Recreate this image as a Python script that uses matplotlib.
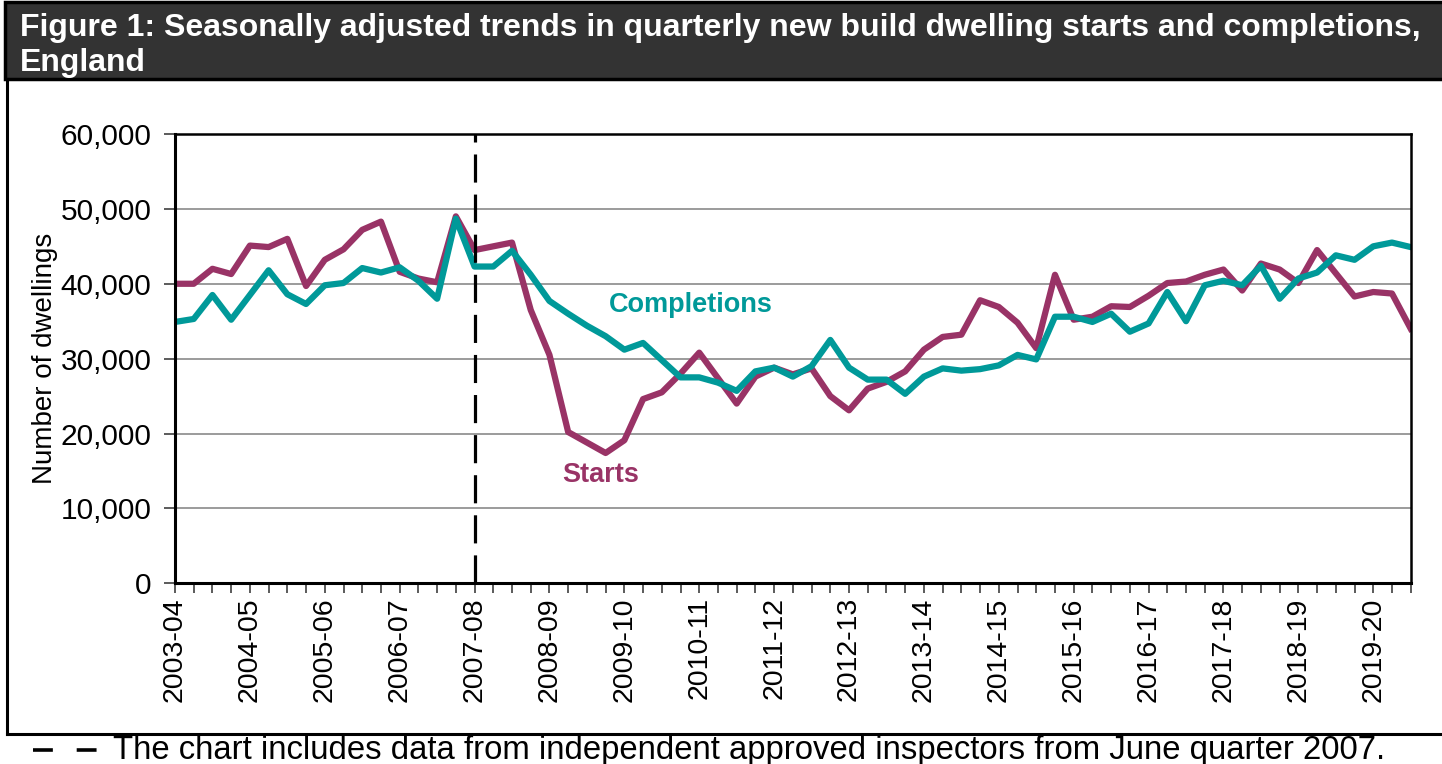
import matplotlib
matplotlib.use("Agg")
import matplotlib.pyplot as plt
from matplotlib.lines import Line2D
from matplotlib.patches import Rectangle
from matplotlib.ticker import FuncFormatter
import numpy as np

# ---- data (thousands of dwellings, quarterly from Apr-Jun 2003 to Oct-Dec 2019) ----
years = ["2003-04", "2004-05", "2005-06", "2006-07", "2007-08", "2008-09",
         "2009-10", "2010-11", "2011-12", "2012-13", "2013-14", "2014-15",
         "2015-16", "2016-17", "2017-18", "2018-19", "2019-20"]

starts_k = [40.0, 40.0, 42.0, 41.3, 45.1, 44.9, 46.0, 39.7, 43.2, 44.6, 47.2, 48.3,
            41.6, 40.7, 40.2, 49.0, 44.5, 45.0, 45.5, 36.5, 30.5, 20.2, 18.8, 17.4,
            19.1, 24.6, 25.5, 28.0, 30.8, 27.4, 24.0, 27.6, 28.8, 27.9, 28.7, 25.0,
            23.1, 26.0, 26.9, 28.3, 31.2, 32.9, 33.2, 37.8, 36.9, 34.8, 31.4, 41.2,
            35.2, 35.6, 37.0, 36.9, 38.4, 40.1, 40.3, 41.2, 41.9, 39.1, 42.7, 41.9,
            40.1, 44.5, 41.4, 38.3, 38.9, 38.7, 34.0]

completions_k = [34.9, 35.3, 38.5, 35.2, 38.5, 41.8, 38.6, 37.3, 39.8, 40.1, 42.1, 41.5,
                 42.2, 40.4, 38.0, 48.7, 42.3, 42.3, 44.4, 41.2, 37.7, 36.0, 34.4, 33.0,
                 31.2, 32.1, 29.8, 27.5, 27.5, 26.8, 25.7, 28.3, 28.8, 27.6, 29.0, 32.5,
                 28.8, 27.2, 27.2, 25.3, 27.6, 28.7, 28.4, 28.6, 29.1, 30.5, 29.9, 35.6,
                 35.6, 34.9, 36.0, 33.6, 34.7, 38.9, 35.0, 39.8, 40.4, 39.8, 42.4, 38.0,
                 40.7, 41.5, 43.8, 43.2, 45.0, 45.5, 44.9]

aia_break_index = 16   # June quarter 2007

starts = np.array(starts_k) * 1000
completions = np.array(completions_k) * 1000

STARTS_C = "#993366"
COMPL_C = "#009999"

plt.rcParams['font.family'] = ['Liberation Sans', 'DejaVu Sans']

W, H = 1442, 764
fig = plt.figure(figsize=(W / 100, H / 100), dpi=100)

def fx(px):
    return px / W

def fy(py):
    return 1 - py / H

# title bar
fig.patches.append(Rectangle((fx(5), fy(79)), fx(1445) - fx(5), fy(2) - fy(79),
                             transform=fig.transFigure, facecolor="#333333",
                             edgecolor="black", lw=2.5, zorder=0))
fig.text(fx(20), fy(45.5),
         "Figure 1: Seasonally adjusted trends in quarterly new build dwelling starts and completions,\nEngland",
         color="white", fontsize=23, fontweight="bold", va="center", ha="left",
         linespacing=1.2)

# frame lines
fig.lines.append(Line2D([fx(6.5), fx(6.5)], [fy(79), fy(734)], transform=fig.transFigure,
                        color="black", lw=2.2))
fig.lines.append(Line2D([fx(6.5), 1.0], [fy(734), fy(734)], transform=fig.transFigure,
                        color="black", lw=2.2))

# footnote
fig.lines.append(Line2D([fx(33), fx(97)], [fy(750), fy(750)], transform=fig.transFigure,
                        color="black", lw=2.6, dashes=(5.5, 6.6), dash_capstyle="butt"))
fig.text(fx(113), fy(750),
         "The chart includes data from independent approved inspectors from June quarter 2007.",
         fontsize=23.7, va="center", ha="left", color="black")

# axes
ax = fig.add_axes([fx(175), fy(583.3), fx(1410.7) - fx(175), fy(134) - fy(583.3)])
x = np.arange(len(starts))

ax.plot(x, starts, color=STARTS_C, lw=4.5, solid_joinstyle="round", zorder=3)
ax.plot(x, completions, color=COMPL_C, lw=4.5, solid_joinstyle="round", zorder=4)
ax.axvline(aia_break_index, color="black", lw=2.3, dashes=(8.8, 3.75),
           dash_capstyle="butt", zorder=5)

ax.set_xlim(0, len(x) - 1)
ax.set_ylim(0, 60000)
ax.set_yticks(np.arange(0, 60001, 10000))
ax.yaxis.set_major_formatter(FuncFormatter(lambda v, p: f"{int(v):,}"))
ax.set_xticks(x)
ax.set_xticklabels([years[i // 4] if i % 4 == 0 else "" for i in x], rotation=90)

ax.grid(axis="y", color="#8a8a8a", lw=1.2)
ax.grid(axis="x", visible=False)
ax.set_axisbelow(True)

for side in ["left", "bottom"]:
    ax.spines[side].set_linewidth(2.2)
for side in ["top", "right"]:
    ax.spines[side].set_linewidth(1.8)
for s in ax.spines.values():
    s.set_color("black")
    s.set_zorder(6)

ax.tick_params(axis="y", length=8, width=1.2, color="#404040", pad=9, labelsize=21.5)
ax.tick_params(axis="x", length=7, width=1.2, color="#404040", pad=3, labelsize=20.5)

ax.set_ylabel("Number of dwellings", fontsize=20)
ax.yaxis.set_label_coords((58 - 175) / (1410.7 - 175), 0.5)

ax.text(27.56, 37150, "Completions", color=COMPL_C, fontsize=19.5, fontweight="bold",
        ha="center", va="center", zorder=7)
ax.text(22.76, 14460, "Starts", color=STARTS_C, fontsize=19.5, fontweight="bold",
        ha="center", va="center", zorder=7)

fig.savefig("out.png", dpi=100)
